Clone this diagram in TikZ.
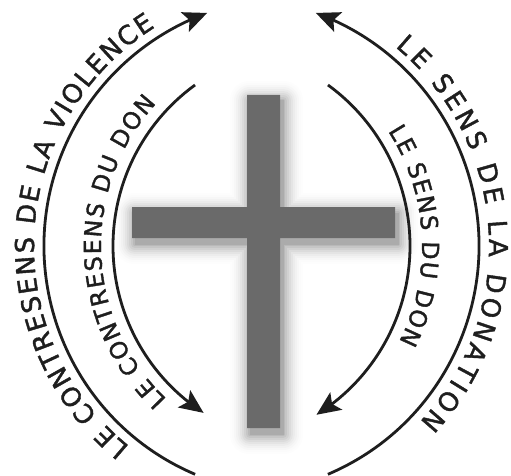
\documentclass[tikz,border=0pt]{standalone}
\usepackage{fontspec}
\newfontfamily\arcfont[FakeBold=1.5]{DejaVu Sans}
\newcommand\outertxt{\arcfont\fontsize{26pt}{27pt}\selectfont}
\newcommand\innertxt{\arcfont\fontsize{23.5pt}{24pt}\selectfont}
\usetikzlibrary{arrows.meta,bending,decorations.text,calc}
\definecolor{inkcol}{HTML}{1E1E1E}
\definecolor{crosscol}{HTML}{6A6A6A}
\begin{document}
\begin{tikzpicture}[x=1pt,y=1pt,
  arcline/.style={line width=2.8pt, draw=inkcol, -{Stealth[length=24pt,width=21pt,inset=5pt]}},
  outertext/.style={decorate, decoration={text along path, text align={fit to path}, text color=inkcol, text={|\outertxt|#1}}},
  innertext/.style={decorate, decoration={text along path, text align={fit to path}, text color=inkcol, text={|\innertxt|#1}}}]
\useasboundingbox (0,0) rectangle (511,475);
% centres of the arcs
\coordinate (C1) at (292,229);
\coordinate (C2) at (231,229);
\coordinate (C3) at (312,229);
\coordinate (C4) at (211,229);
% soft shadow of the cross
\foreach \e/\k in {22/0.1,20/0.6,18/1.6,16/3,14/5,12/7.5,10/10.5,8/14,6/18,4/22.5,2/27.5,0/33}{
  \filldraw[black!\k, line width={2*\e pt}, line join=round, shift={(3,-6)}]
    (247,47) -- (280,47) -- (280,237) -- (395,237) -- (395,268) -- (280,268) -- (280,380)
    -- (247,380) -- (247,268) -- (132,268) -- (132,237) -- (247,237) -- cycle;
}
% the cross
\fill[crosscol] (247,47) -- (280,47) -- (280,237) -- (395,237) -- (395,268) -- (280,268) -- (280,380)
    -- (247,380) -- (247,268) -- (132,268) -- (132,237) -- (247,237) -- cycle;
% arcs
\draw[arcline] ($(C1)+(247:248pt)$) arc[start angle=247,end angle=110,radius=248pt];
\draw[arcline] ($(C2)+(-67:248pt)$) arc[start angle=-67,end angle=70,radius=248pt];
\draw[arcline] ($(C3)+(126:199pt)$) arc[start angle=126,end angle=237,radius=199pt];
\draw[arcline] ($(C4)+(54:199pt)$) arc[start angle=54,end angle=-58,radius=199pt];
% texts
\path[outertext={LE CONTRESENS DE LA VIOLENCE}] ($(C1)+(231:258pt)$) arc[start angle=231,end angle=122,radius=258pt];
\path[outertext={LE SENS DE LA DONATION}] ($(C2)+(50.5:258pt)$) arc[start angle=50.5,end angle=-43,radius=258pt];
\path[innertext={LE CONTRESENS DU DON}] ($(C3)+(226.5:211pt)$) arc[start angle=226.5,end angle=137.5,radius=211pt];
\path[innertext={LE SENS DU DON}] ($(C4)+(33:211pt)$) arc[start angle=33,end angle=-27,radius=211pt];
\end{tikzpicture}
\end{document}
